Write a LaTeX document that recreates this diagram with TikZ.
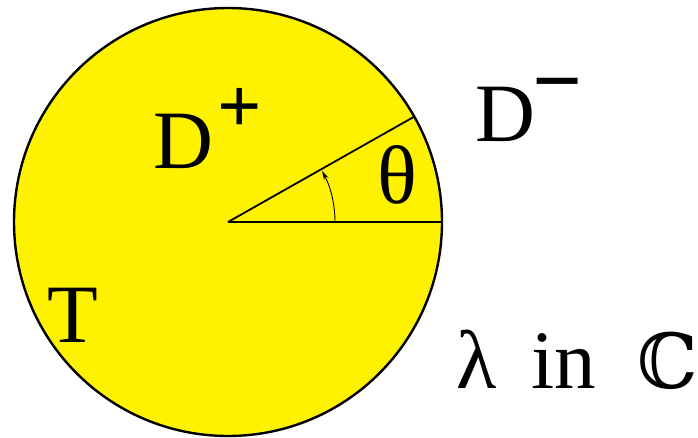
\documentclass[tikz,border=0pt]{standalone}
\usepackage{fontspec}
\setmainfont{Liberation Serif}
\newfontfamily\bbfont{DejaVu Serif}
\usetikzlibrary{arrows.meta}
\tikzset{
  disk/.style={draw=black,fill=yellow,line width=2.4pt},
  ray/.style={draw=black,line width=1.8pt},
  angle_arr/.style={-{Stealth[length=9pt,width=5pt]},draw=black,line width=0.9pt},
  big_lbl/.style={inner sep=0pt,font=\fontsize{83}{96}\selectfont},
  sup_lbl/.style={inner sep=0pt,font=\bfseries\fontsize{78}{90}\selectfont},
}
\begin{document}
\begin{tikzpicture}[x=1pt,y=1pt]
  \useasboundingbox (0,0) rectangle (698,437);

  % disk and angle
  \coordinate (o) at (228,215);
  \draw[disk] (o) circle[radius=214pt];
  \coordinate (r) at ([shift={(29.5:214pt)}]o);
  \coordinate (e) at ([shift={(0:214pt)}]o);
  \draw[ray] (o) -- (r);
  \draw[ray] (o) -- (e);
  \draw[angle_arr] ([shift={(0:107pt)}]o) arc[start angle=0,end angle=28.5,radius=107pt];

  % labels
  \node[big_lbl] (dp) at (183,296) {D};
  \node[sup_lbl] (plus) at (240,327) {+};
  \node[big_lbl] (dm) at (505,323) {D};
  \node[sup_lbl,font=\bfseries\fontsize{88}{100}\selectfont] (minus) at (558,343) {−};
  \node[big_lbl] (th) at (397,262) {θ};
  \node[big_lbl] (t) at (73,122) {T};
  \node[big_lbl,anchor=base west] (lam) at (456,49) {λ};
  \node[big_lbl,anchor=base west] (in) at (531,49) {in};
  \node[big_lbl,anchor=base west,font=\bbfont\fontsize{76}{90}\selectfont] (cc) at (637,49) {ℂ};
\end{tikzpicture}
\end{document}
